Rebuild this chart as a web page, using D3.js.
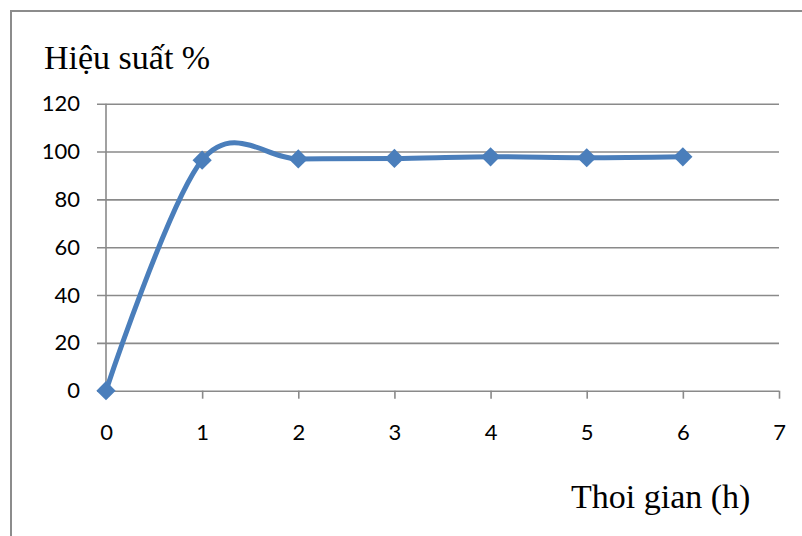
<!DOCTYPE html>
<html>
<head>
<meta charset="utf-8">
<script src="https://cdn.jsdelivr.net/npm/d3@7"></script>
<style>
  html, body { margin: 0; padding: 0; background: #fff; }
  svg { display: block; }
</style>
</head>
<body>
<svg id="chart" width="802" height="536"></svg>
<script>
// Reaction time (h) and efficiency (%)
const hours = [0, 1, 2, 3, 4, 5, 6];
const efficiency = [0, 96.4, 96.9, 97.1, 97.8, 97.4, 97.8];
const xTicks = [0, 1, 2, 3, 4, 5, 6, 7];
const yTicks = [0, 20, 40, 60, 80, 100, 120];
const yTitle = "Hiệu suất %";
const xTitle = "Thoi gian (h)";

const svg = d3.select("#chart");
const W = 802, H = 536;
const plot = { left: 106, right: 779, top: 103.7, bottom: 390.7 };
const grid = "#8a8a8a";
const blue = "#4a7ebb";
const tickFont = "Lato, 'Open Sans', sans-serif";

// outer frame (left and top edges visible)
svg.append("path")
  .attr("d", `M11,${H} L11,11 L${W},11`)
  .attr("fill", "none")
  .attr("stroke", "#8c8c8c")
  .attr("stroke-width", 2);

const x = d3.scaleLinear().domain([0, 7]).range([plot.left, plot.right]);
const y = d3.scaleLinear().domain([0, 120]).range([plot.bottom, plot.top]);

// horizontal gridlines with left tick marks
const yAxis = d3.axisLeft(y).tickValues(yTicks).tickFormat(d3.format("d"))
  .tickSize(-(plot.right - plot.left)).tickSizeOuter(0).tickPadding(26);
const gy = svg.append("g").attr("transform", `translate(${plot.left},0)`).call(yAxis);
gy.select(".domain").remove();
gy.selectAll(".tick line")
  .attr("x1", -9)
  .attr("stroke", grid).attr("stroke-width", 1.6);
gy.selectAll(".tick text")
  .attr("font-family", tickFont)
  .attr("font-size", 22).attr("fill", "#000");

// vertical axis line
svg.append("line")
  .attr("x1", plot.left).attr("x2", plot.left)
  .attr("y1", plot.top).attr("y2", plot.bottom)
  .attr("stroke", grid).attr("stroke-width", 1.6);

// x axis with downward ticks
const xAxis = d3.axisBottom(x).tickValues(xTicks).tickFormat(d3.format("d"))
  .tickSize(8).tickSizeOuter(0).tickPadding(26);
const gx = svg.append("g").attr("transform", `translate(0,${plot.bottom})`).call(xAxis);
gx.select(".domain").remove();
gx.selectAll(".tick line").attr("stroke", grid).attr("stroke-width", 1.6);
gx.selectAll(".tick text")
  .attr("font-family", tickFont)
  .attr("font-size", 22).attr("fill", "#000");

// smoothed series line
const pts = hours.map((h, i) => [h, efficiency[i]]);
const line = d3.line()
  .x(d => x(d[0])).y(d => y(d[1]))
  .curve(d3.curveCardinal.tension(0));
svg.append("path")
  .datum(pts)
  .attr("d", line)
  .attr("fill", "none")
  .attr("stroke", blue)
  .attr("stroke-width", 5)
  .attr("stroke-linejoin", "round");

// diamond markers
const diamond = d3.symbol().type(d3.symbolSquare).size(185);
svg.append("g").selectAll("path")
  .data(pts)
  .join("path")
  .attr("d", diamond)
  .attr("transform", d => `translate(${x(d[0])},${y(d[1])}) rotate(45)`)
  .attr("fill", blue);

// titles
svg.append("text")
  .attr("x", 44).attr("y", 69)
  .attr("font-family", "'Liberation Serif', 'Times New Roman', serif")
  .attr("font-size", 34).attr("fill", "#000")
  .text(yTitle);

svg.append("text")
  .attr("x", 571).attr("y", 508)
  .attr("font-family", "'Liberation Serif', 'Times New Roman', serif")
  .attr("font-size", 34).attr("fill", "#000")
  .text(xTitle);
</script>
</body>
</html>
